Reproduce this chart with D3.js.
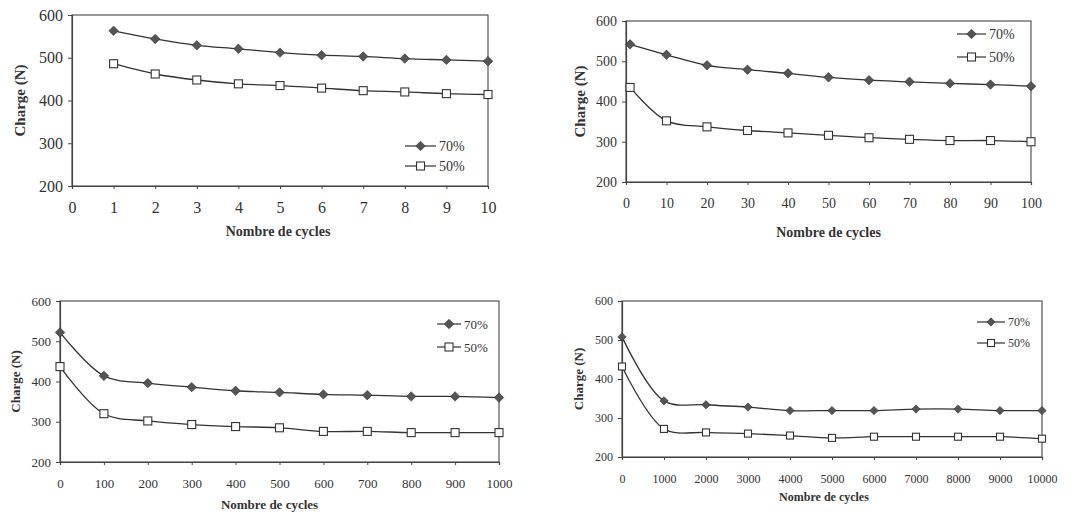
<!DOCTYPE html>
<html lang="fr">
<head>
<meta charset="utf-8">
<title>Charge vs nombre de cycles</title>
<script src="https://d3js.org/d3.v7.min.js"></script>
<style>
  body { margin: 0; background: #fff; }
  text { font-family: "Liberation Serif", "Times New Roman", serif; fill: #333; }
  .axis path, .axis line { stroke: #444; }
  .title { font-weight: bold; }
</style>
</head>
<body>
<script>
// x values for each panel
var cycles10 = [1, 2, 3, 4, 5, 6, 7, 8, 9, 10];
var cycles100 = [1, 10, 20, 30, 40, 50, 60, 70, 80, 90, 100];
var cycles1000 = [0, 100, 200, 300, 400, 500, 600, 700, 800, 900, 1000];
var cycles10000 = [0, 1000, 2000, 3000, 4000, 5000, 6000, 7000, 8000, 9000, 10000];

// charge (N)
var p1_70 = [563, 544, 529, 521, 512, 506, 503, 498, 495, 492];
var p1_50 = [486, 462, 448, 439, 435, 429, 423, 420, 416, 414];
var p2_70 = [542, 516, 490, 479, 470, 460, 453, 449, 445, 442, 438];
var p2_50 = [435, 352, 337, 328, 322, 316, 310, 306, 303, 303, 300];
var p3_70 = [522, 414, 396, 386, 377, 373, 368, 366, 363, 363, 360];
var p3_50 = [437, 320, 302, 293, 288, 285, 276, 276, 273, 273, 273];
var p4_70 = [508, 344, 334, 328, 319, 319, 319, 323, 323, 319, 319];
var p4_50 = [432, 272, 263, 260, 255, 249, 252, 252, 252, 252, 247];

var xTicks1 = [0, 1, 2, 3, 4, 5, 6, 7, 8, 9, 10];
var xTicks2 = [0, 10, 20, 30, 40, 50, 60, 70, 80, 90, 100];
var yTicks = [200, 300, 400, 500, 600];

var seriesNames = ["70%", "50%"];
var xTitle = "Nombre de cycles";
var yTitle = "Charge (N)";

var svg = d3.select("body").append("svg")
  .attr("width", 1086)
  .attr("height", 514);

function drawPanel(cfg) {
  var x = d3.scaleLinear().domain(cfg.xDomain).range([cfg.left, cfg.right]);
  var y = d3.scaleLinear().domain([200, 600]).range([cfg.bottom, cfg.top]);
  var g = svg.append("g");

  // frame
  g.append("rect")
    .attr("x", cfg.left).attr("y", cfg.top)
    .attr("width", cfg.right - cfg.left).attr("height", cfg.bottom - cfg.top)
    .attr("fill", "none").attr("stroke", "#555").attr("stroke-width", 1.2);

  var xAxis = d3.axisBottom(x).tickValues(cfg.xTicks).tickSize(3).tickPadding(cfg.xPad).tickFormat(d3.format("d"));
  g.append("g").attr("class", "axis")
    .attr("transform", "translate(0," + cfg.bottom + ")")
    .call(xAxis)
    .call(function(s) { s.select(".domain").attr("stroke-width", 1.2); })
    .selectAll("text").style("font-size", cfg.fs + "px");

  var yAxis = d3.axisLeft(y).tickValues(yTicks).tickSize(4).tickPadding(5);
  g.append("g").attr("class", "axis")
    .attr("transform", "translate(" + cfg.left + ",0)")
    .call(yAxis)
    .call(function(s) { s.select(".domain").attr("stroke-width", 1.2); })
    .selectAll("text").style("font-size", cfg.fs + "px");

  g.selectAll(".axis text").attr("fill", "#333");

  // titles
  g.append("text").attr("class", "title")
    .attr("x", (cfg.left + cfg.right) / 2 + cfg.titleShift)
    .attr("y", cfg.xTitleY)
    .attr("text-anchor", "middle")
    .style("font-size", cfg.tfs + "px")
    .text(xTitle);

  g.append("text").attr("class", "title")
    .attr("transform", "translate(" + cfg.yTitleX + "," + ((cfg.top + cfg.bottom) / 2) + ") rotate(-90)")
    .attr("text-anchor", "middle")
    .attr("dy", "0.35em")
    .style("font-size", cfg.yfs + "px")
    .text(yTitle);

  var line = d3.line()
    .x(function(d) { return x(d[0]); })
    .y(function(d) { return y(d[1]); })
    .curve(d3.curveCatmullRom.alpha(0.5));

  var s70 = cfg.xs.map(function(v, i) { return [v, cfg.v70[i]]; });
  var s50 = cfg.xs.map(function(v, i) { return [v, cfg.v50[i]]; });

  g.append("path").datum(s70).attr("d", line)
    .attr("fill", "none").attr("stroke", "#333").attr("stroke-width", 1.3);
  g.append("path").datum(s50).attr("d", line)
    .attr("fill", "none").attr("stroke", "#333").attr("stroke-width", 1.3);

  // diamond = square turned 45 degrees
  var diamond = d3.symbol().type(d3.symbolSquare).size(cfg.ms * cfg.ms * 0.7);
  g.selectAll(".d70").data(s70).enter().append("path")
    .attr("transform", function(d) { return "translate(" + x(d[0]) + "," + y(d[1]) + ") rotate(45)"; })
    .attr("d", diamond)
    .attr("fill", "#555").attr("stroke", "#333").attr("stroke-width", 0.6);

  var sq = cfg.ms;
  g.selectAll(".s50").data(s50).enter().append("rect")
    .attr("x", function(d) { return x(d[0]) - sq / 2; })
    .attr("y", function(d) { return y(d[1]) - sq / 2; })
    .attr("width", sq).attr("height", sq)
    .attr("fill", "#fff").attr("stroke", "#333").attr("stroke-width", 1.1);

  // legend
  seriesNames.forEach(function(name, i) {
    var ly = cfg.legY[i];
    var lx0 = cfg.legX, lx1 = cfg.legX + cfg.legW, mx = (lx0 + lx1) / 2;
    g.append("line").attr("x1", lx0).attr("x2", lx1).attr("y1", ly).attr("y2", ly)
      .attr("stroke", "#333").attr("stroke-width", 1.2);
    if (i === 0) {
      g.append("path").attr("transform", "translate(" + mx + "," + ly + ") rotate(45)")
        .attr("d", diamond).attr("fill", "#555").attr("stroke", "#333").attr("stroke-width", 0.6);
    } else {
      g.append("rect").attr("x", mx - sq / 2).attr("y", ly - sq / 2)
        .attr("width", sq).attr("height", sq)
        .attr("fill", "#fff").attr("stroke", "#333").attr("stroke-width", 1.1);
    }
    g.append("text").attr("x", lx1 + 3).attr("y", ly).attr("dy", "0.35em")
      .style("font-size", cfg.lfs + "px").text(name);
  });
}

drawPanel({ left: 72, right: 488, top: 15, bottom: 186, xDomain: [0, 10], xTicks: xTicks1,
  xs: cycles10, v70: p1_70, v50: p1_50, fs: 16, tfs: 14, yfs: 15, lfs: 14, xPad: 13, xTitleY: 236, yTitleX: 20,
  titleShift: -2, ms: 8, legX: 405, legW: 31, legY: [146, 166] });

drawPanel({ left: 626, right: 1031, top: 21, bottom: 182, xDomain: [0, 100], xTicks: xTicks2,
  xs: cycles100, v70: p2_70, v50: p2_50, fs: 14, tfs: 14, yfs: 15, lfs: 14, xPad: 13, xTitleY: 237, yTitleX: 580,
  titleShift: 0, ms: 8, legX: 957, legW: 29, legY: [34, 57] });

drawPanel({ left: 60, right: 499, top: 301, bottom: 462, xDomain: [0, 1000], xTicks: cycles1000,
  xs: cycles1000, v70: p3_70, v50: p3_50, fs: 13, tfs: 13, yfs: 13, lfs: 13, xPad: 14, xTitleY: 509, yTitleX: 15,
  titleShift: -10, ms: 8, legX: 437, legW: 24, legY: [324, 347] });

drawPanel({ left: 622, right: 1042, top: 301, bottom: 457, xDomain: [0, 10000], xTicks: cycles10000,
  xs: cycles10000, v70: p4_70, v50: p4_50, fs: 12, tfs: 12, yfs: 13, lfs: 12, xPad: 14, xTitleY: 501, yTitleX: 578,
  titleShift: -8, ms: 7, legX: 977, legW: 28, legY: [322, 343] });
</script>
</body>
</html>
